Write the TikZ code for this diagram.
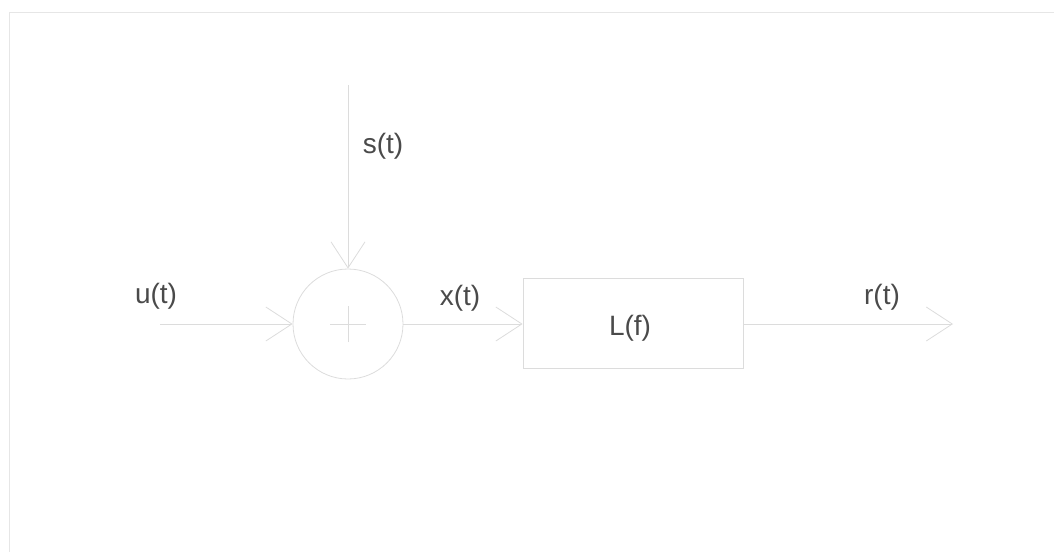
\documentclass[tikz,border=0pt]{standalone}
\usepackage{fontspec}
\setmainfont{Liberation Sans}
\usetikzlibrary{arrows.meta}
\definecolor{wire}{HTML}{DCDCDC}
\definecolor{frameline}{HTML}{E6E6E6}
\definecolor{ink}{HTML}{4A4A4A}
\begin{document}
\begin{tikzpicture}[x=1pt,y=-1pt,
  wire/.style={draw=wire,line width=0.8pt},
  sig/.style={wire,-{Straight Barb[length=26pt,width=34pt,line width=0.8pt]}},
  lbl/.style={text=ink,font=\fontsize{28}{31}\selectfont,inner sep=0pt},
  sumnode/.style={circle,wire,minimum size=110pt,inner sep=0pt},
  blocknode/.style={rectangle,wire,minimum width=220pt,minimum height=90pt,inner sep=0pt}]
  \useasboundingbox (0,0) rectangle (1054,552);
  % faint page frame
  \draw[frameline,line width=0.8pt] (9,552) -- (9,12) -- (1054,12);
  % summing junction and filter block
  \node[sumnode] (sum) at (348,324) {};
  \draw[wire] ([xshift=-18pt]sum.center) -- ([xshift=18pt]sum.center);
  \draw[wire] ([yshift=-18pt]sum.center) -- ([yshift=18pt]sum.center);
  \node[blocknode] (filt) at (633,323) {};
  \node[lbl] (lf) at (630,328) {L(f)};
  % free ends of the signal lines
  \coordinate (uin) at (160,324);
  \coordinate (sin) at (348,85);
  \coordinate (rout) at (953,324);
  % connectors
  \draw[sig] (uin) -- (sum.west);
  \draw[sig] (sin) -- (sum.north);
  \draw[sig] (sum.east) -- (filt.west |- sum.east);
  \draw[sig] (filt.east |- sum.east) -- (rout);
  % signal labels
  \node[lbl] (ulab) at (156,296) {u(t)};
  \node[lbl] (slab) at (383,146) {s(t)};
  \node[lbl] (xlab) at (460,298) {x(t)};
  \node[lbl] (rlab) at (882,297) {r(t)};
\end{tikzpicture}
\end{document}
